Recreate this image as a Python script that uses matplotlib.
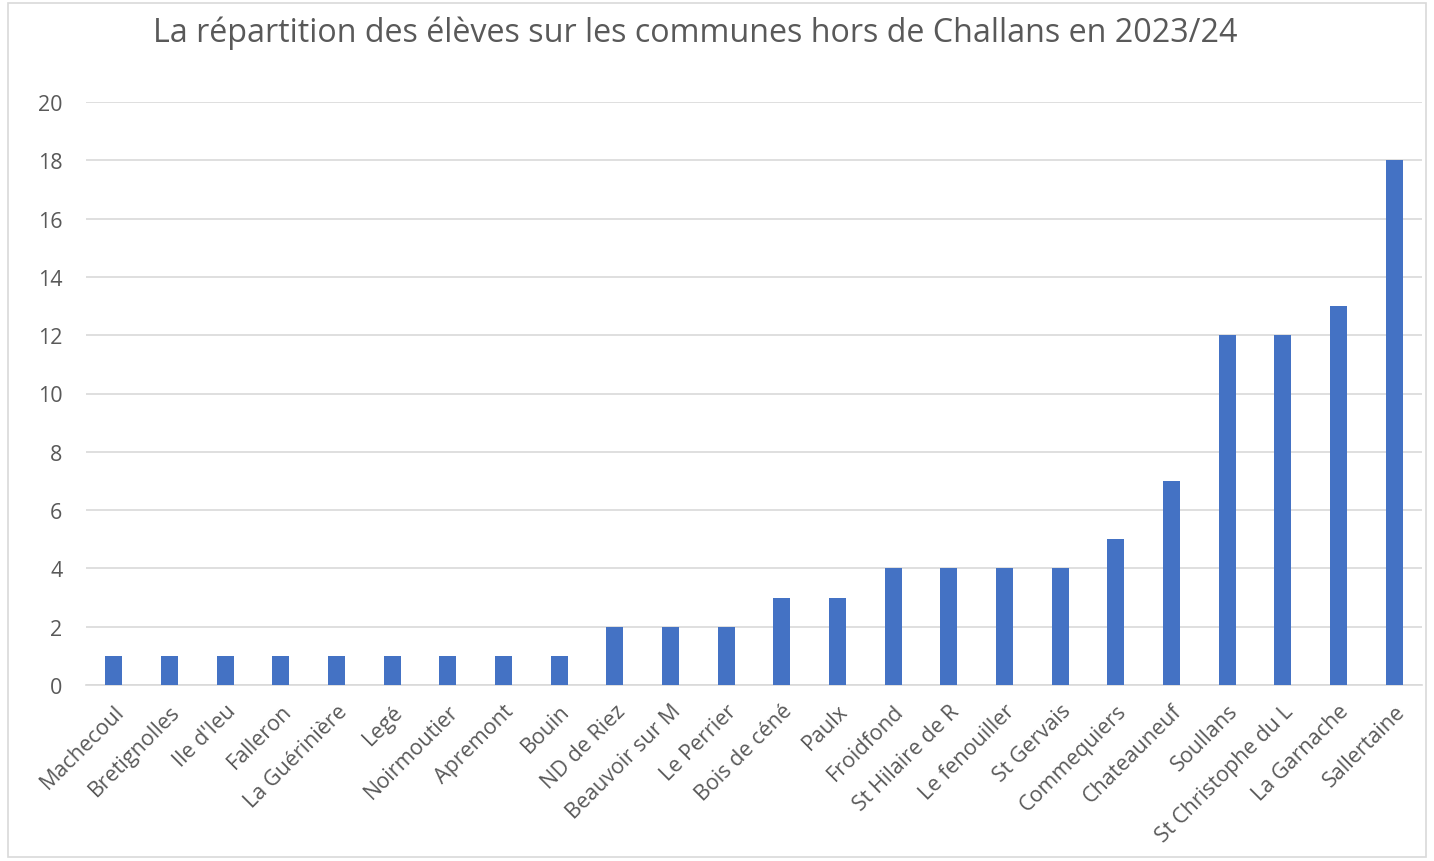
import matplotlib
matplotlib.use("Agg")
from matplotlib import pyplot as plt
from matplotlib.patches import Rectangle

communes = ["Machecoul", "Bretignolles", "Ile d'Ieu", "Falleron", "La Guérinière",
            "Legé", "Noirmoutier", "Apremont", "Bouin", "ND de Riez",
            "Beauvoir sur M", "Le Perrier", "Bois de céné", "Paulx", "Froidfond",
            "St Hilaire de R", "Le fenouiller", "St Gervais", "Commequiers",
            "Chateauneuf", "Soullans", "St Christophe du L", "La Garnache", "Sallertaine"]
eleves = [1, 1, 1, 1, 1, 1, 1, 1, 1, 2, 2, 2, 3, 3, 4, 4, 4, 4, 5, 7, 12, 12, 13, 18]
yticks = [0, 2, 4, 6, 8, 10, 12, 14, 16, 18, 20]

plt.rcParams['font.family'] = ['Open Sans', 'DejaVu Sans']
grey = "#595959"

fig = plt.figure(figsize=(14.34, 8.62), dpi=100)
fig.patches.append(Rectangle((8/1434, 4/862), 1 - 16/1434, 1 - 8/862,
                             transform=fig.transFigure, fill=False,
                             edgecolor="#D9D9D9", linewidth=1.2))

ax = fig.add_axes([86/1434, 1 - 686/862, 1336/1434, 583/862])
x = range(len(communes))
ax.bar(x, eleves, width=0.31, color="#4472C4", zorder=3)

ax.set_xlim(-0.5, len(communes) - 0.5)
ax.set_ylim(0, 20)
ax.set_yticks(yticks)
ax.set_xticks(list(x))
ax.set_xticklabels(communes, rotation=45, ha="right", rotation_mode="anchor")
ax.tick_params(axis="both", length=0, colors=grey, labelsize=15.5)
ax.tick_params(axis="y", pad=17)
ax.tick_params(axis="x", pad=11)
ax.grid(axis="y", color="#D9D9D9", linewidth=1.2, zorder=0)
for s in ["top", "right", "left"]:
    ax.spines[s].set_visible(False)
ax.spines["bottom"].set_color("#D9D9D9")
ax.spines["bottom"].set_linewidth(1.2)

fig.text(695/1434, 1 - 33/862, "La répartition des élèves sur les communes hors de Challans en 2023/24",
         ha="center", va="center", fontsize=23.2, color=grey)

fig.savefig("out.png", dpi=100)
